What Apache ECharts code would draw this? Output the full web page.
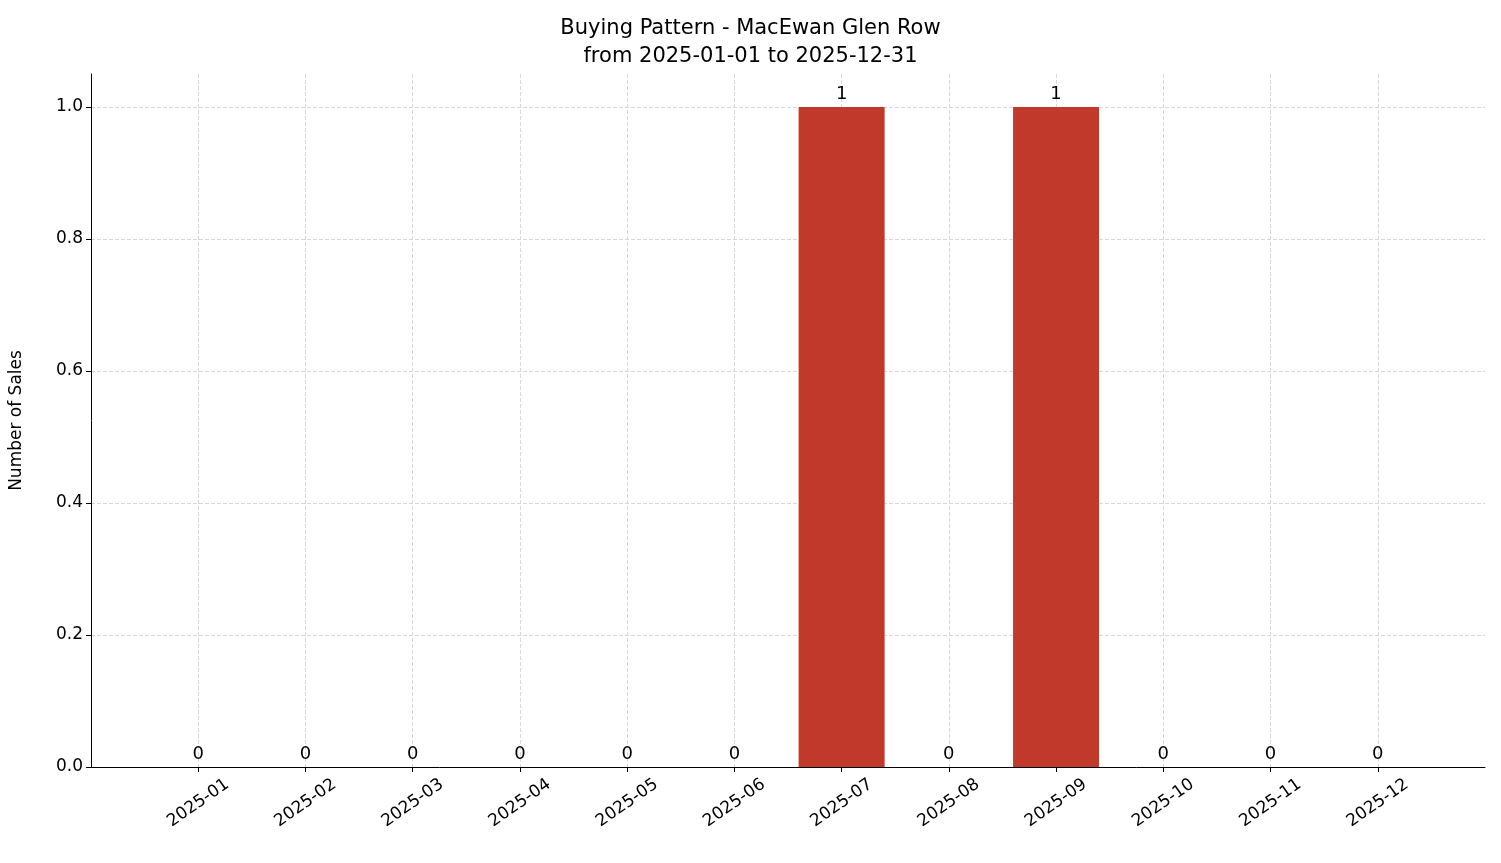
<!DOCTYPE html>
<html><head><meta charset="utf-8">
<script src="https://cdn.jsdelivr.net/npm/echarts@6/dist/echarts.min.js"></script>
<style>html,body{margin:0;padding:0;background:#fff}#c{width:1501px;height:863px}</style>
</head><body><div id="c"></div>
<script>
const months = ['2025-01','2025-02','2025-03','2025-04','2025-05','2025-06','2025-07','2025-08','2025-09','2025-10','2025-11','2025-12'];
const sales = [0,0,0,0,0,0,1,0,1,0,0,0];
const cats = [''].concat(months, ['']);
const data = [null].concat(sales, [null]);
const inner = (i) => i > 0 && i < cats.length - 1;
const chart = echarts.init(document.getElementById('c'));
chart.setOption({
  animation: false,
  title: {text: 'Buying Pattern - MacEwan Glen Row\nfrom 2025-01-01 to 2025-12-31', left: 'center', top: 10,
    textStyle: {fontFamily: 'DejaVu Sans', fontSize: 21, fontWeight: 'normal', color: '#000', lineHeight: 28}},
  grid: {left: 91, right: 16, top: 74, bottom: 96},
  xAxis: {type: 'category', data: cats, boundaryGap: false,
    axisLine: {lineStyle: {color: '#000'}},
    axisTick: {interval: inner, length: 5, lineStyle: {color: '#000'}},
    axisLabel: {interval: inner, rotate: 35, align: 'center', fontFamily: 'DejaVu Sans', fontSize: 17, color: '#000', margin: 36},
    splitLine: {show: true, interval: inner, lineStyle: {type: 'dashed', color: '#d9d9d9'}}},
  yAxis: {type: 'value', min: 0, max: 1.05, interval: 0.2,
    name: 'Number of Sales', nameLocation: 'middle', nameGap: 66,
    nameTextStyle: {fontFamily: 'DejaVu Sans', fontSize: 17, color: '#000'},
    axisLine: {show: true, lineStyle: {color: '#000'}},
    axisTick: {show: true, length: 5, lineStyle: {color: '#000'}},
    axisLabel: {showMaxLabel: false, fontFamily: 'DejaVu Sans', fontSize: 17, color: '#000', formatter: v => v.toFixed(1)},
    splitLine: {show: true, showMaxLine: false, lineStyle: {type: 'dashed', color: '#d9d9d9'}}},
  series: [{type: 'bar', data: data, barWidth: 86, itemStyle: {color: '#c0392b'},
    label: {show: true, position: 'top', distance: 4, fontFamily: 'DejaVu Sans', fontSize: 18, color: '#000'}}]
});
</script></body></html>
